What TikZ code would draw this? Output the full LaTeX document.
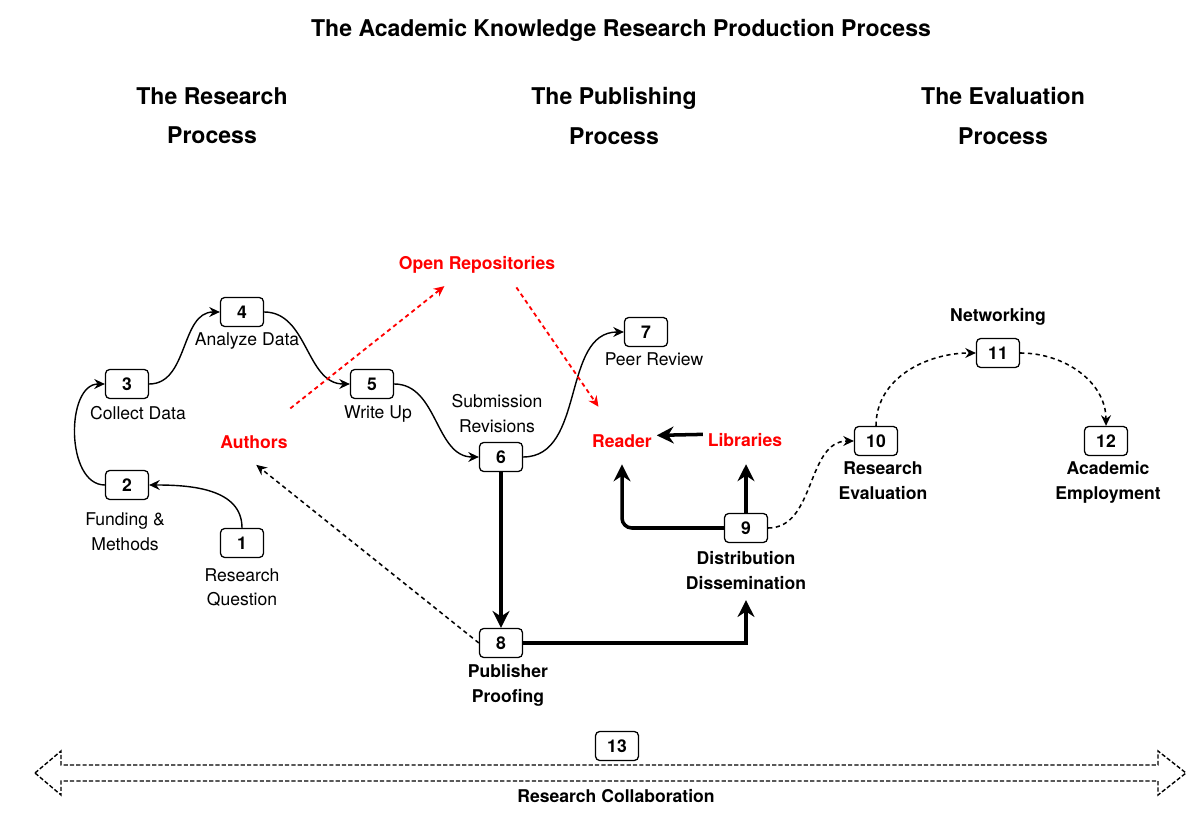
\documentclass[tikz,border=0pt]{standalone}
\usepackage{fontspec}
\setmainfont{TeX Gyre Heros}
\usetikzlibrary{arrows.meta}
\usetikzlibrary{positioning}

\begin{document}
\begin{tikzpicture}[
  stepno/.style={draw,rounded corners=3pt,line width=0.9pt,minimum width=1.075cm,minimum height=0.725cm,inner sep=0pt,font=\fontsize{12.5}{15}\selectfont\bfseries},
  lbl/.style={align=center,inner sep=1pt,font=\fontsize{12.5}{17.7}\selectfont},
  lblb/.style={align=center,inner sep=1pt,font=\fontsize{12.5}{17.7}\selectfont\bfseries},
  actor/.style={text=red,font=\fontsize{12.5}{15}\selectfont\bfseries},
  head/.style={align=center,font=\fontsize{16.4}{28}\selectfont\bfseries},
  flow/.style={line width=1pt,-{Stealth[length=7.5pt,width=7pt]}},
  heavy/.style={line width=2.5pt,-{Stealth[length=12pt,width=12pt]}},
  loose/.style={line width=1.1pt,dash pattern=on 3pt off 2.5pt,-{Stealth[length=7.5pt,width=7pt]}},
  redloose/.style={loose,line width=1.3pt,red},
  collab/.style={line width=1pt,dash pattern=on 3pt off 1.5pt},
]
\fill[white] (0,0) rectangle (30,20.525);
\useasboundingbox (0,0) rectangle (30,20.525);

\node[head] (title) at (15.525,19.775) {The Academic Knowledge Research Production Process};
\node[head] (hres) at (5.3,17.625) {The Research\\Process};
\node[head] (hpub) at (15.35,17.625) {The Publishing\\Process};
\node[head] (heva) at (25.075,17.625) {The Evaluation\\Process};

% numbered steps
\node[stepno] (n1) at (6.05,6.95) {1};
\node[stepno] (n2) at (3.175,8.40) {2};
\node[stepno] (n3) at (3.175,10.925) {3};
\node[stepno] (n4) at (6.05,12.725) {4};
\node[stepno] (n5) at (9.30,10.925) {5};
\node[stepno] (n6) at (12.525,9.10) {6};
\node[stepno] (n7) at (16.15,12.225) {7};
\node[stepno] (n8) at (12.525,4.45) {8};
\node[stepno] (n9) at (18.65,7.325) {9};
\node[stepno] (n10) at (21.90,9.50) {10};
\node[stepno] (n11) at (24.95,11.70) {11};
\node[stepno] (n12) at (27.65,9.50) {12};
\node[stepno] (n13) at (15.425,1.875) {13};

\node[lbl,below=6pt of n1] (l1) {Research\\Question};
\node[lbl,below=8pt of n2,xshift=-0.05cm] (l2) {Funding \&\\Methods};
\node[lbl,below=4pt of n3,xshift=0.275cm] (l3) {Collect Data};
\node[lbl,below=3pt of n4,xshift=0.125cm] (l4) {Analyze Data};
\node[lbl,below=3.5pt of n5,xshift=0.15cm] (l5) {Write Up};
\node[lbl,above=5pt of n6,xshift=-0.1cm] (l6) {Submission\\Revisions};
\node[lbl,below=3pt of n7,xshift=0.2cm] (l7) {Peer Review};
\node[lblb,below=3.5pt of n8,xshift=0.175cm] (l8) {Publisher\\Proofing};
\node[lblb,below=5pt of n9] (l9) {Distribution\\Dissemination};
\node[lblb,below=3pt of n10,xshift=0.175cm] (l10) {Research\\Evaluation};
\node[lblb,above=8pt of n11] (l11) {Networking};
\node[lblb,below=2.5pt of n12,xshift=0.05cm] (l12) {Academic\\Employment};
\node[lblb] (l13) at (15.4,0.625) {Research Collaboration};

\node[actor] (authors) at (6.35,9.475) {Authors};
\node[actor] (repos) at (11.925,13.9) {Open Repositories};
\node[actor] (reader) at (15.55,9.5) {Reader};
\node[actor] (libs) at (18.625,9.525) {Libraries};

% research process
\draw[flow] (n1.north) to[out=90,in=0] (n2.east);
\draw[flow] (n2.west) to[out=180,in=180] (n3.west);
\draw[flow] (n3.east) to[out=0,in=180] (n4.west);
\draw[flow] (n4.east) to[out=0,in=180] (n5.west);
\draw[flow] (n5.east) to[out=0,in=180] (n6.west);
\draw[flow] (n6.east) to[out=0,in=180] (n7.west);

% publishing
\draw[heavy] (n6.south) -- (n8.north);
\draw[heavy,shorten >=6pt] (n8.east) -| (l9.south);
\draw[heavy,rounded corners=7pt,shorten >=8.5pt] (n9.west) -| (reader.south);
\draw[heavy,shorten >=9pt] (n9.north) -- (n9.north|-libs.south);
\draw[heavy] ([yshift=4pt]libs.west) -- ([yshift=4pt]reader.east);
\draw[loose,shorten >=13pt] (n8.west) -- ([xshift=-0.3cm]authors.south);
\draw[redloose,shorten <=1.35cm,shorten >=0.85cm] ([xshift=-0.15cm]authors.center) -- ([xshift=-0.15cm]repos.center);
\draw[redloose,shorten <=0.68cm,shorten >=1.04cm] ([xshift=0.6cm]repos.center) -- (reader.center);

% evaluation
\draw[loose] (n9.east) to[out=0,in=180] (n10.west);
\draw[loose] (n10.north) to[out=90,in=180] (n11.west);
\draw[loose] (n11.east) to[out=0,in=90] (n12.north);

\draw[collab] (0.875,1.2) -- (1.525,1.75) -- (1.525,1.4) -- (28.95,1.4) -- (28.95,1.75) -- (29.65,1.2)
  -- (28.95,0.65) -- (28.95,1.0) -- (1.525,1.0) -- (1.525,0.65) -- cycle;

\end{tikzpicture}
\end{document}
